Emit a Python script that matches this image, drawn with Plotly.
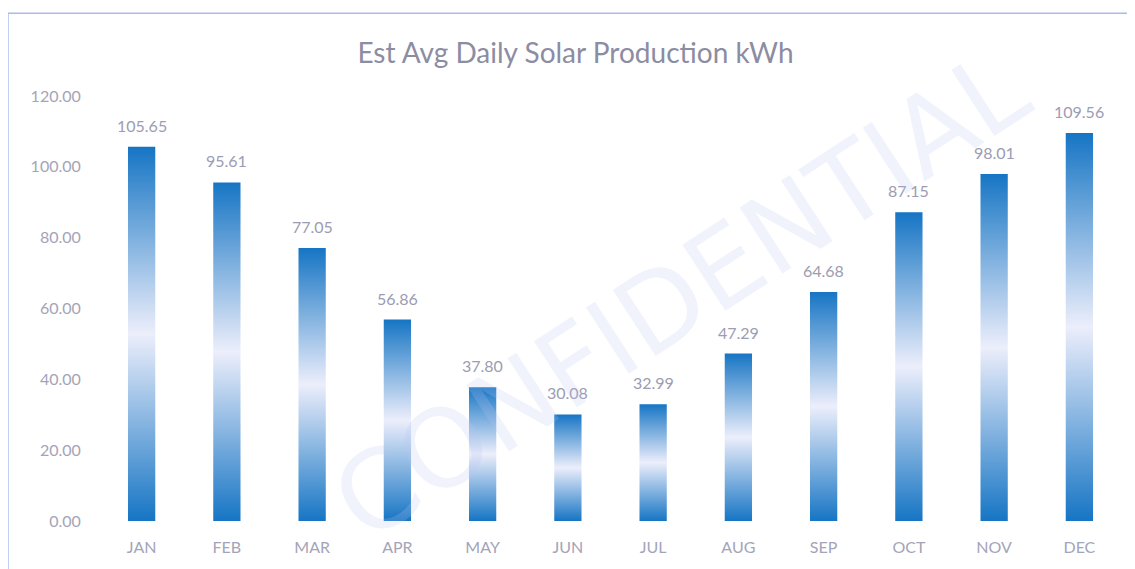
import plotly.graph_objects as go

months = ["JAN", "FEB", "MAR", "APR", "MAY", "JUN", "JUL", "AUG", "SEP", "OCT", "NOV", "DEC"]
production = [105.65, 95.61, 77.05, 56.86, 37.80, 30.08, 32.99, 47.29, 64.68, 87.15, 98.01, 109.56]
y_ticks = [0, 20, 40, 60, 80, 100, 120]

half_w = 0.16
dark = "#1675c4"
light = "#eceefb"
label_color = "#9c9cb2"
font_family = "Lato"

fig = go.Figure()
for i, v in enumerate(production):
    fig.add_trace(go.Scatter(
        x=[i - half_w, i + half_w, i + half_w, i - half_w, i - half_w],
        y=[0, 0, v, v, 0],
        mode="lines", line=dict(width=0, color=dark),
        fill="toself",
        fillgradient=dict(type="vertical",
                          colorscale=[[0, dark], [0.5, light], [1, dark]]),
        hoverinfo="skip", showlegend=False,
    ))

for i, v in enumerate(production):
    fig.add_annotation(
        x=i, y=v, text=f"{v:.2f}", showarrow=False,
        yanchor="bottom", yshift=10,
        font=dict(size=16, color=label_color, family=font_family),
    )

fig.add_annotation(
    text="CONFIDENTIAL", x=0.568, y=0.53, xref="paper", yref="paper",
    textangle=-33, showarrow=False,
    font=dict(size=108, color="rgba(185,195,240,0.22)", family="DejaVu Sans"),
)

# frame: left and top edges only (right/bottom edges fall outside the view)
fig.add_shape(type="line", xref="paper", yref="paper",
              x0=-0.089, x1=-0.089, y0=-0.2, y1=1.195,
              line=dict(color="#a9bbea", width=1.5), layer="below")
fig.add_shape(type="line", xref="paper", yref="paper",
              x0=-0.089, x1=1.06, y0=1.195, y1=1.195,
              line=dict(color="#a9bbea", width=1.5), layer="below")

fig.update_layout(
    width=1135, height=569,
    margin=dict(l=91, r=21, t=88, b=56),
    paper_bgcolor="white", plot_bgcolor="white",
    title=dict(text="Est Avg Daily Solar Production kWh", x=0.5, xanchor="center",
               y=1 - 45 / 569, yanchor="middle",
               font=dict(size=28, color="#8c8ca2", family=font_family)),
    xaxis=dict(range=[-0.5, 11.5], tickvals=list(range(len(months))), ticktext=months,
               showgrid=False, zeroline=False, showline=False,
               ticks="outside", ticklen=12, tickcolor="rgba(0,0,0,0)",
               tickfont=dict(size=16, color="#a4a4b8", family=font_family)),
    yaxis=dict(range=[0, 120], tickvals=y_ticks, ticktext=[f"{t:.2f}" for t in y_ticks],
               showgrid=False, zeroline=False, showline=False,
               ticks="outside", ticklen=14, tickcolor="rgba(0,0,0,0)",
               tickfont=dict(size=16, color="#a4a4b8", family=font_family)),
)

fig.write_html("out.html")
